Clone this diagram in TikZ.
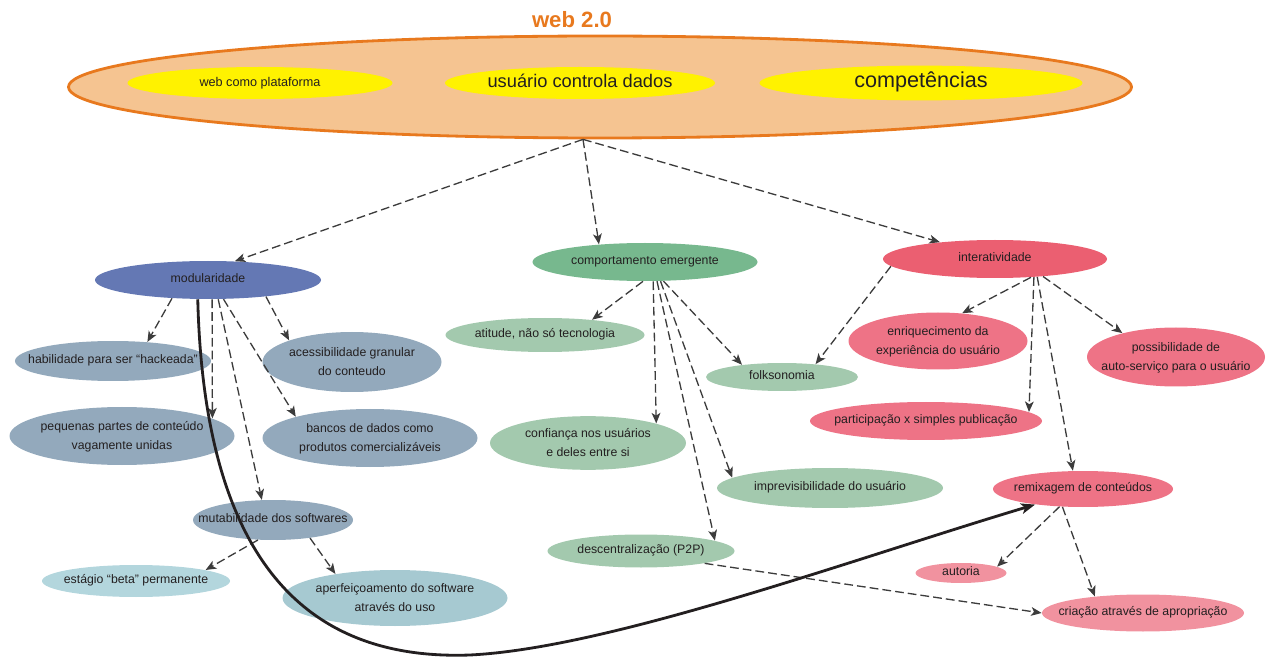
\documentclass[tikz,border=0pt]{standalone}
\usepackage{fontspec}
\setmainfont{Liberation Sans}
\usepackage{xcolor}
\usetikzlibrary{arrows.meta, shapes.geometric}
\definecolor{webrim}{HTML}{E8791E}
\definecolor{webfill}{HTML}{F5C491}
\definecolor{hilite}{HTML}{FFF200}
\definecolor{modblue}{HTML}{6478B4}
\definecolor{modgray}{HTML}{93A9BC}
\definecolor{modlight}{HTML}{B3D6DD}
\definecolor{modteal}{HTML}{A6C9D1}
\definecolor{compgreen}{HTML}{77B88E}
\definecolor{compmint}{HTML}{A3C9AE}
\definecolor{intred}{HTML}{EB5F71}
\definecolor{intpink}{HTML}{EE7386}
\definecolor{introse}{HTML}{F1929F}
\definecolor{inkgray}{HTML}{3C3C3C}
\definecolor{ink}{HTML}{231F20}
\def\ntxt#1{\makebox[0pt]{\begin{tabular}{@{}c@{}}#1\end{tabular}}}

\begin{document}
\begin{tikzpicture}[
    blob/.style={ellipse, inner sep=0pt, text=ink, font=\fontsize{7}{8}\selectfont},
    tall/.style={font=\fontsize{7}{10.8}\selectfont},
    flow/.style={draw=inkgray, line width=0.75pt, dash pattern=on 5pt off 2.3pt, -{Stealth[length=6pt, width=5pt, inset=1.6pt]}},
    bigflow/.style={draw=ink, line width=1.6pt, -{Stealth[length=8pt, width=6pt, inset=2pt]}}
]
    \useasboundingbox (0,0) rectangle (25.42,-13.14);

    \node[blob, draw=webrim, line width=1.6pt, fill=webfill, minimum width=21.26cm, minimum height=2.04cm] (web) at (12.0,-1.74) {};
    \node[text=webrim, font=\bfseries\fontsize{12.6}{14}\selectfont] (webname) at (11.44,-0.40) {web 2.0};
    \node[blob, fill=hilite, minimum width=5.3cm, minimum height=0.64cm, font=\fontsize{7.2}{9}\selectfont] (plataforma) at (5.2,-1.66) {\ntxt{web como plataforma}};
    \node[blob, fill=hilite, minimum width=5.4cm, minimum height=0.64cm, font=\fontsize{10.4}{12}\selectfont] (dados) at (11.6,-1.66) {\ntxt{usuário controla dados}};
    \node[blob, fill=hilite, minimum width=6.46cm, minimum height=0.64cm, font=\fontsize{12.3}{14}\selectfont] (competencias) at (18.42,-1.66) {\ntxt{competências}};

    \node[blob, fill=modblue, minimum width=4.52cm, minimum height=0.76cm] (modul) at (4.16,-5.6) {\ntxt{modularidade}};
    \node[blob, fill=compgreen, minimum width=4.5cm, minimum height=0.76cm] (comp) at (12.9,-5.24) {\ntxt{comportamento emergente}};
    \node[blob, fill=intred, minimum width=4.48cm, minimum height=0.76cm] (inter) at (19.9,-5.18) {\ntxt{interatividade}};

    \node[blob, fill=modgray, minimum width=3.92cm, minimum height=0.8cm] (hack) at (2.26,-7.22) {\ntxt{habilidade para ser “hackeada”}};
    \node[blob, tall, fill=modgray, minimum width=3.58cm, minimum height=1.2cm] (acess) at (7.04,-7.24) {\ntxt{acessibilidade granular\\do conteudo}};
    \node[blob, tall, fill=modgray, minimum width=4.5cm, minimum height=1.16cm] (pequ) at (2.44,-8.72) {\ntxt{pequenas partes de conteúdo\\vagamente unidas}};
    \node[blob, tall, fill=modgray, minimum width=4.3cm, minimum height=1.16cm] (banco) at (7.4,-8.76) {\ntxt{bancos de dados como\\produtos comercializáveis}};
    \node[blob, fill=modgray, minimum width=3.2cm, minimum height=0.8cm] (mutab) at (5.46,-10.4) {\ntxt{mutabilidade dos softwares}};
    \node[blob, fill=modlight, minimum width=3.76cm, minimum height=0.64cm] (beta) at (2.72,-11.62) {\ntxt{estágio “beta” permanente}};
    \node[blob, tall, fill=modteal, minimum width=4.5cm, minimum height=1.12cm] (aperf) at (7.9,-11.96) {\ntxt{aperfeiçoamento do software\\através do uso}};

    \node[blob, fill=compmint, minimum width=3.98cm, minimum height=0.68cm] (atit) at (10.9,-6.7) {\ntxt{atitude, não só tecnologia}};
    \node[blob, fill=compmint, minimum width=3.04cm, minimum height=0.56cm] (folks) at (15.64,-7.54) {\ntxt{folksonomia}};
    \node[blob, tall, fill=compmint, minimum width=3.92cm, minimum height=1.0cm] (confi) at (11.76,-8.86) {\ntxt{confiança nos usuários\\e deles entre si}};
    \node[blob, fill=compmint, minimum width=4.52cm, minimum height=0.8cm] (imprev) at (16.6,-9.76) {\ntxt{imprevisibilidade do usuário}};
    \node[blob, fill=compmint, minimum width=3.74cm, minimum height=0.66cm] (descen) at (12.82,-11.02) {\ntxt{descentralização (P2P)}};

    \node[blob, tall, fill=intpink, minimum width=3.58cm, minimum height=1.14cm] (enriq) at (18.76,-6.82) {\ntxt{enriquecimento da\\experiência do usuário}};
    \node[blob, tall, fill=intpink, minimum width=3.56cm, minimum height=1.18cm] (possib) at (23.52,-7.14) {\ntxt{possibilidade de\\auto-serviço para o usuário}};
    \node[blob, fill=intpink, minimum width=4.64cm, minimum height=0.76cm] (partic) at (18.52,-8.42) {\ntxt{participação x simples publicação}};
    \node[blob, fill=intpink, minimum width=3.6cm, minimum height=0.72cm] (remix) at (21.66,-9.78) {\ntxt{remixagem de conteúdos}};
    \node[blob, fill=introse, minimum width=1.82cm, minimum height=0.4cm] (autor) at (19.22,-11.46) {\ntxt{autoria}};
    \node[blob, fill=introse, minimum width=4.04cm, minimum height=0.74cm] (criac) at (22.86,-12.26) {\ntxt{criação através de apropriação}};

    \draw[flow] (web.252) -- (modul.35);
    \draw[flow] (web.252) -- (comp.159);
    \draw[flow] (web.252) -- (inter.163);

    \draw[flow] (modul.207) -- (hack.29);
    \draw[flow] (modul.282) -- (pequ.11);
    \draw[flow] (modul.298) -- (mutab.119);
    \draw[flow] (modul.309) -- (banco.164);
    \draw[flow] (modul.344) -- (acess.161);
    \draw[flow] (mutab.233) -- (beta.9);
    \draw[flow] (mutab.334) -- (aperf.158);

    \draw[flow] (comp.264) -- (atit.18);
    \draw[flow] (comp.293) -- (confi.16);
    \draw[flow] (comp.302) -- (descen.8);
    \draw[flow] (comp.309) -- (imprev.174);
    \draw[flow] (comp.314) -- (folks.163);

    \draw[flow] (inter.184) -- (folks.21);
    \draw[flow] (inter.333) -- (enriq.49);
    \draw[flow] (inter.335) -- (partic.5);
    \draw[flow] (inter.337) -- (remix.119);
    \draw[flow] (inter.340) -- (possib.156);

    \draw[flow] (remix.217) -- (autor.10);
    \draw[flow] (remix.221) -- (criac.161);
    \draw[flow] (descen.349) -- (criac.west);

    \coordinate (dip) at (9.4,-13.1);
    \draw[bigflow] (modul.242) .. controls (4.1,-11.8) and (6.6,-13.2) .. (dip) .. controls (12.2,-12.96) and (17.0,-11.2) .. (remix.198);
\end{tikzpicture}
\end{document}
